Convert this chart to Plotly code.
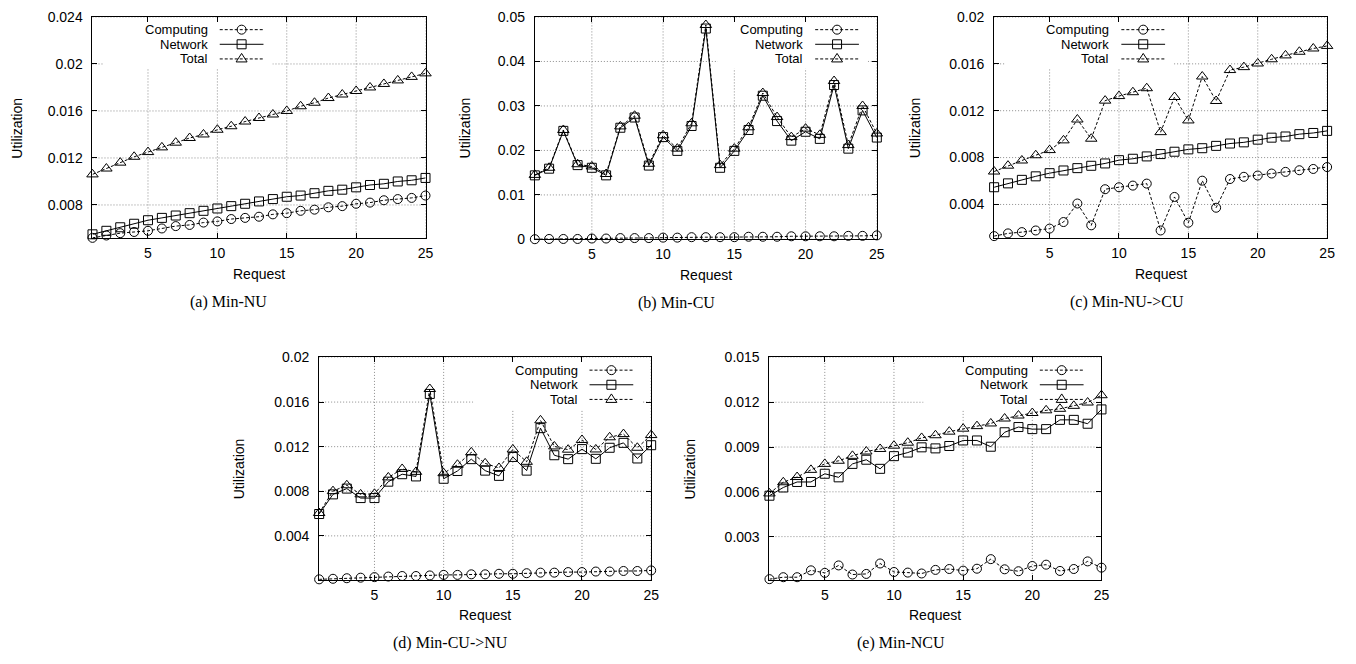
import plotly.graph_objects as go

W, H = 1356, 664
OFF = 8  # page body margin of the browser
FW, FH = W - OFF, H - OFF

requests = list(range(1, 26))
x_ticks = [5, 10, 15, 20, 25]
series_names = ["Computing", "Network", "Total"]

# (a) Min-NU
a_comp = [0.0052, 0.0054, 0.0056, 0.0057, 0.0058, 0.0060, 0.0062, 0.0063, 0.0065, 0.0066, 0.0068, 0.0069, 0.0070,
          0.0072, 0.0073, 0.0075, 0.0076, 0.0078, 0.0079, 0.0081, 0.0082, 0.0084, 0.0085, 0.0086, 0.0088]
a_net = [0.0055, 0.0058, 0.0061, 0.0064, 0.0067, 0.0069, 0.0071, 0.0073, 0.0075, 0.0077, 0.0079, 0.0081, 0.0083,
         0.0085, 0.0087, 0.0088, 0.0090, 0.0092, 0.0093, 0.0095, 0.0097, 0.0098, 0.0100, 0.0101, 0.0103]
a_total = [0.0106, 0.0111, 0.0116, 0.0121, 0.0125, 0.0129, 0.0133, 0.0137, 0.0140, 0.0144, 0.0147, 0.0151, 0.0154,
           0.0157, 0.0160, 0.0164, 0.0167, 0.0171, 0.0174, 0.0177, 0.0180, 0.0183, 0.0186, 0.0189, 0.0192]
a_yticks = [0.008, 0.012, 0.016, 0.02, 0.024]
a_ytext = ["0.008", "0.012", "0.016", "0.02", "0.024"]

# (b) Min-CU
b_comp = [0.00005, 0.0001, 0.0001, 0.0001, 0.0002, 0.0002, 0.0003, 0.0003, 0.0003, 0.0004, 0.0004, 0.0005, 0.0005,
          0.0005, 0.0005, 0.0006, 0.0006, 0.0006, 0.0007, 0.0007, 0.0007, 0.0007, 0.0008, 0.0008, 0.0009]
b_net = [0.0144, 0.0159, 0.0244, 0.0167, 0.0161, 0.0144, 0.0251, 0.0274, 0.0166, 0.0230, 0.0199, 0.0255, 0.0474,
         0.0161, 0.0199, 0.0246, 0.0323, 0.0266, 0.0222, 0.0242, 0.0226, 0.0347, 0.0204, 0.0290, 0.0229]
b_total = [0.0145, 0.0161, 0.0246, 0.0169, 0.0164, 0.0147, 0.0254, 0.0278, 0.0170, 0.0234, 0.0204, 0.0261, 0.0482,
           0.0167, 0.0204, 0.0252, 0.0329, 0.0275, 0.0230, 0.0249, 0.0235, 0.0356, 0.0212, 0.0300, 0.0238]
b_yticks = [0, 0.01, 0.02, 0.03, 0.04, 0.05]
b_ytext = ["0", "0.01", "0.02", "0.03", "0.04", "0.05"]

# (c) Min-NU->CU
c_comp = [0.0013, 0.00153, 0.00164, 0.00178, 0.00194, 0.0025, 0.00408, 0.00222, 0.0053, 0.00547, 0.00561, 0.00578,
          0.00178, 0.00464, 0.00244, 0.00603, 0.00372, 0.00617, 0.00636, 0.00647, 0.00664, 0.00678, 0.00692,
          0.00703, 0.00719]
c_net = [0.00547, 0.0058, 0.0061, 0.0064, 0.00667, 0.0069, 0.0071, 0.0073, 0.0075, 0.00778, 0.0079, 0.0081, 0.0083,
         0.0085, 0.0087, 0.0088, 0.0090, 0.0092, 0.0093, 0.00953, 0.0097, 0.0098, 0.0100, 0.0101, 0.01028]
c_total = [0.00681, 0.00731, 0.00775, 0.0082, 0.00864, 0.00947, 0.01125, 0.00961, 0.01286, 0.01325, 0.01358,
           0.01392, 0.01017, 0.01317, 0.01117, 0.01492, 0.01283, 0.01547, 0.01572, 0.01603, 0.01639, 0.01672,
           0.01703, 0.01731, 0.01753]
c_yticks = [0.004, 0.008, 0.012, 0.016, 0.02]
c_ytext = ["0.004", "0.008", "0.012", "0.016", "0.02"]

# (d) Min-CU->NU
d_comp = [0.0001, 0.00015, 0.0002, 0.00025, 0.0003, 0.00035, 0.0004, 0.0004, 0.00045, 0.0005, 0.0005, 0.00055,
          0.00055, 0.0006, 0.0006, 0.00065, 0.0007, 0.0007, 0.00075, 0.00075, 0.0008, 0.0008, 0.00085, 0.00085, 0.0009]
d_net = [0.00596, 0.00772, 0.00824, 0.00739, 0.00739, 0.00886, 0.00953, 0.00933, 0.01673, 0.00912, 0.00982, 0.01088,
         0.00985, 0.00938, 0.01108, 0.00985, 0.01366, 0.01123, 0.01088, 0.01178, 0.01091, 0.0119, 0.01234, 0.01094,
         0.01213]
d_total = [0.00605, 0.00801, 0.00854, 0.00772, 0.00777, 0.00924, 0.0100, 0.00974, 0.01717, 0.00962, 0.01038, 0.01149,
           0.0105, 0.01009, 0.01175, 0.01064, 0.01436, 0.01202, 0.01173, 0.0126, 0.01175, 0.01284, 0.01313, 0.0119,
           0.01304]
d_yticks = [0.004, 0.008, 0.012, 0.016, 0.02]
d_ytext = ["0.004", "0.008", "0.012", "0.016", "0.02"]

# (e) Min-NCU
e_comp = [0.00015, 0.00028, 0.00028, 0.00074, 0.00057, 0.00107, 0.00046, 0.0005, 0.0012, 0.00063, 0.00059, 0.00053,
          0.00077, 0.00083, 0.00072, 0.00085, 0.00149, 0.00081, 0.00068, 0.00103, 0.00112, 0.0007, 0.00083, 0.00134,
          0.00092]
e_net = [0.00574, 0.00629, 0.00666, 0.00666, 0.00721, 0.00697, 0.00787, 0.00815, 0.00754, 0.00839, 0.00863, 0.00898,
         0.00891, 0.00907, 0.00944, 0.00944, 0.00902, 0.00999, 0.01034, 0.0102, 0.0102, 0.01082, 0.01082, 0.01056,
         0.01152]
e_total = [0.00589, 0.00664, 0.00699, 0.00747, 0.00787, 0.00808, 0.00841, 0.0087, 0.00887, 0.00909, 0.00929, 0.00961,
           0.00979, 0.01003, 0.01023, 0.0104, 0.01058, 0.01091, 0.01111, 0.01128, 0.01146, 0.01156, 0.01176, 0.01198,
           0.01247]
e_yticks = [0.003, 0.006, 0.009, 0.012, 0.015]
e_ytext = ["0.003", "0.006", "0.009", "0.012", "0.015"]

captions = ["(a) Min-NU", "(b) Min-CU", "(c) Min-NU->CU", "(d) Min-CU->NU", "(e) Min-NCU"]

# ---- layout description (pixel frames in the page, key side) ----
panels = [
    dict(series=[a_comp, a_net, a_total], yr=[0.00515, 0.024], tv=a_yticks, tt=a_ytext,
         frame=(93, 9, 428, 236), leg="left", ytitle_x=17, cap_x=230),
    dict(series=[b_comp, b_net, b_total], yr=[0, 0.05], tv=b_yticks, tt=b_ytext,
         frame=(538, 9, 882, 237), leg="right", ytitle_x=468, cap_x=680),
    dict(series=[c_comp, c_net, c_total], yr=[0.0011, 0.02], tv=c_yticks, tt=c_ytext,
         frame=(1000, 9, 1335, 236), leg="left", ytitle_x=920, cap_x=1134),
    dict(series=[d_comp, d_net, d_total], yr=[0.00005, 0.02], tv=d_yticks, tt=d_ytext,
         frame=(321, 358, 655, 586), leg="right", ytitle_x=240, cap_x=453),
    dict(series=[e_comp, e_net, e_total], yr=[0.0001, 0.015], tv=e_yticks, tt=e_ytext,
         frame=(774, 358, 1108, 586), leg="right", ytitle_x=694, cap_x=906),
]

styles = [
    dict(symbol="circle-open", size=9, dash="3px,2px"),
    dict(symbol="square-open", size=9, dash="solid"),
    dict(symbol="triangle-up-open", size=10, dash="3px,2px"),
]

SANS = "Liberation Sans, Arial, sans-serif"
SERIF = "Liberation Serif, Times New Roman, serif"
FS = 14
KFS = 13
GRID = dict(color="#8c8c8c", width=1, dash="1px,2px")


def px(x):
    return (x - OFF) / FW


def py(y):
    return 1 - (y - OFF) / FH


fig = go.Figure()
layout = dict(width=FW, height=FH, margin=dict(l=0, r=0, t=0, b=0, pad=0), paper_bgcolor="white",
              plot_bgcolor="white", showlegend=False, font=dict(family=SANS, size=FS, color="black"))
annotations = []
shapes = []

for i, p in enumerate(panels):
    k = "" if i == 0 else str(i + 1)
    L, T, R, B = p["frame"]
    xa = dict(domain=[px(L), px(R)], range=[1, 25], tickvals=x_ticks, ticktext=[str(v) for v in x_ticks],
              anchor="y" + k, showline=True, linecolor="black", linewidth=1, mirror="ticks",
              ticks="inside", ticklen=5, tickcolor="black", showgrid=False, zeroline=False,
              tickfont=dict(family=SANS, size=FS), ticklabelstandoff=2)
    ya = dict(domain=[py(B), py(T)], range=p["yr"], tickvals=p["tv"], ticktext=p["tt"],
              anchor="x" + k, showline=True, linecolor="black", linewidth=1, mirror="ticks",
              ticks="inside", ticklen=5, tickcolor="black", showgrid=False, zeroline=False,
              tickfont=dict(family=SANS, size=FS), ticklabelstandoff=6)
    layout["xaxis" + k] = xa
    layout["yaxis" + k] = ya

    # dotted grid lines (below the traces), positioned through the axes
    for v in x_ticks:
        shapes.append(dict(type="line", xref="x" + k, yref="y" + k + " domain", x0=v, x1=v, y0=0, y1=1,
                           line=GRID, layer="below"))
    for v in p["tv"]:
        shapes.append(dict(type="line", xref="x" + k + " domain", yref="y" + k, x0=0, x1=1, y0=v, y1=v,
                           line=GRID, layer="below"))

    for s, vals, name in zip(styles, p["series"], series_names):
        fig.add_trace(go.Scatter(
            x=requests, y=vals, name=name, mode="lines+markers", xaxis="x" + k, yaxis="y" + k,
            line=dict(color="black", width=1, dash=s["dash"]),
            marker=dict(symbol=s["symbol"], size=s["size"], color="black", line=dict(width=1, color="black")),
            cliponaxis=False))

    # axis titles & caption
    annotations.append(dict(text="Request", x=px((L + R) / 2), y=py(B + 36), xref="paper", yref="paper",
                            showarrow=False, font=dict(family=SANS, size=FS), xanchor="center", yanchor="middle"))
    annotations.append(dict(text="Utilization", x=px(p["ytitle_x"]), y=py((T + B) / 2), xref="paper", yref="paper",
                            showarrow=False, textangle=-90, font=dict(family=SANS, size=FS),
                            xanchor="center", yanchor="middle"))
    annotations.append(dict(text=captions[i], x=px(p["cap_x"]), y=py(B + 65), xref="paper", yref="paper",
                            showarrow=False, font=dict(family=SERIF, size=16), xanchor="center", yanchor="middle"))

    # key (gnuplot style: text on the left, sample on the right)
    text_r = L + 118 if p["leg"] == "left" else R - 72
    line_x0, line_x1 = text_r + 10, text_r + 54
    mark_x = (line_x0 + line_x1) / 2
    rows = [T + 13, T + 28, T + 43]
    mx0 = max(text_r - 107, L + 1)
    if i == 1:
        mx0 = text_r - 88
    mx1 = min(line_x1 + 9, R - 1)
    # white key box hiding the grid lines (still below the traces)
    shapes.append(dict(type="rect", xref="x" + k + " domain", yref="y" + k + " domain",
                       x0=(mx0 - L) / (R - L), x1=(mx1 - L) / (R - L),
                       y0=(B - (T + 53)) / (B - T), y1=(B - T - 1) / (B - T),
                       fillcolor="white", line=dict(width=0), layer="below"))
    for j, (name, s) in enumerate(zip(series_names, styles)):
        yy = rows[j]
        annotations.append(dict(text=name, x=px(text_r), y=py(yy), xref="paper", yref="paper", showarrow=False,
                                xanchor="right", yanchor="middle", font=dict(family=SANS, size=KFS)))
        shapes.append(dict(type="line", xref="paper", yref="paper", x0=px(line_x0), x1=px(line_x1),
                           y0=py(yy), y1=py(yy), line=dict(color="black", width=1, dash=s["dash"])))
        common = dict(xref="paper", yref="paper", xsizemode="pixel", ysizemode="pixel",
                      xanchor=px(mark_x), yanchor=py(yy), line=dict(color="black", width=1),
                      fillcolor="rgba(0,0,0,0)")
        if j == 0:
            shapes.append(dict(type="circle", x0=-4.5, x1=4.5, y0=-4.5, y1=4.5, **common))
        elif j == 1:
            shapes.append(dict(type="rect", x0=-4.5, x1=4.5, y0=-4.5, y1=4.5, **common))
        else:
            shapes.append(dict(type="path", path="M -5.5,-3 L 5.5,-3 L 0,5.5 Z", **common))

layout["annotations"] = annotations
layout["shapes"] = shapes
fig.update_layout(**layout)
fig.write_html("out.html")
